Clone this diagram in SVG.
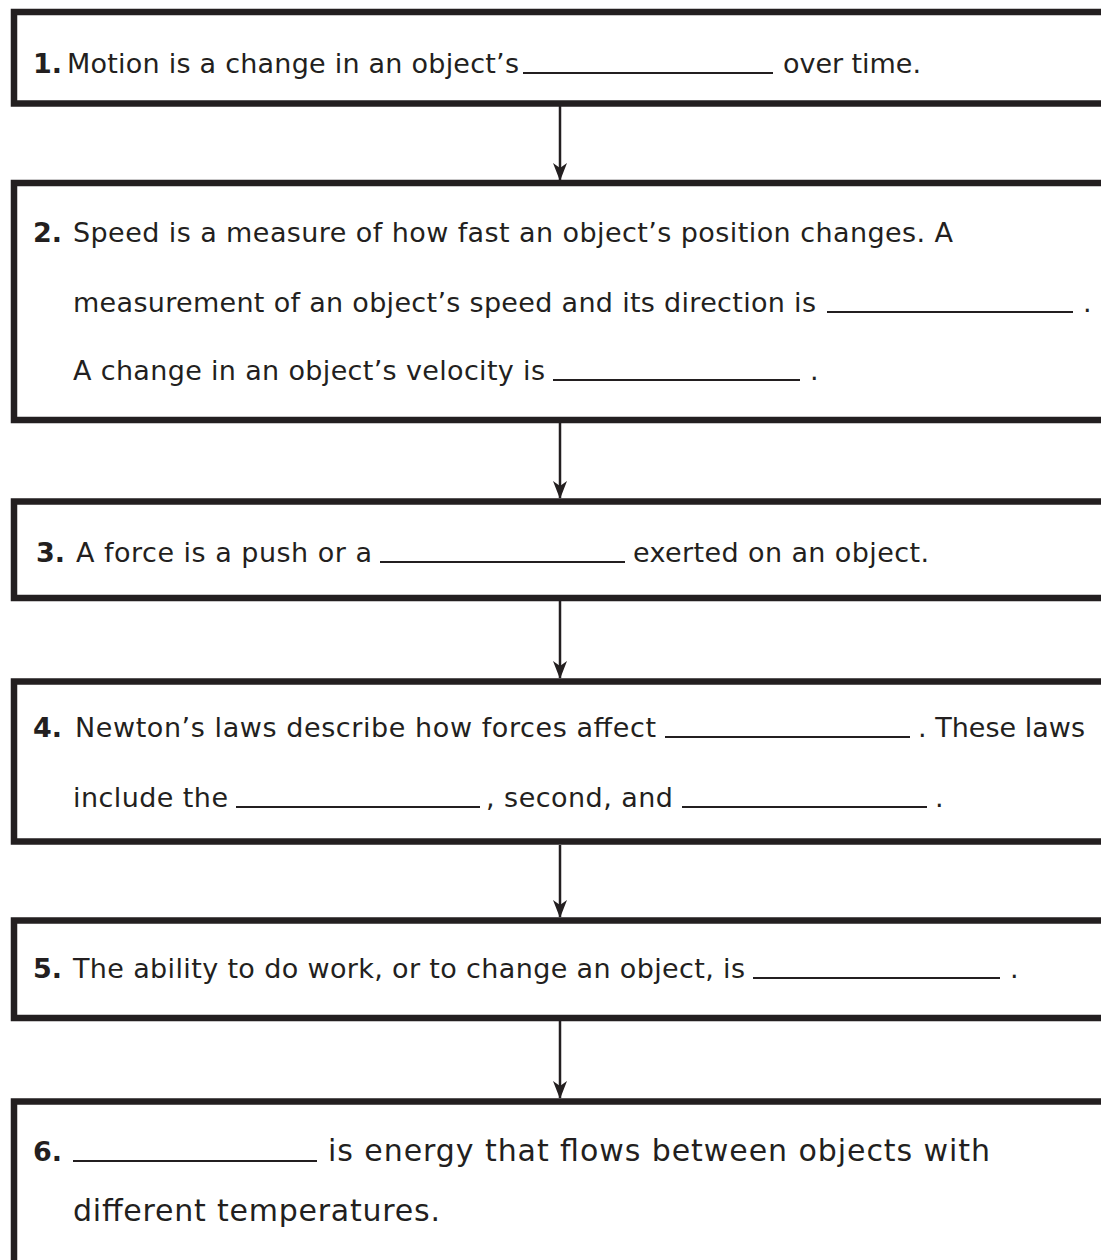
<svg xmlns="http://www.w3.org/2000/svg" width="1101" height="1260" viewBox="0 0 1101 1260">
<defs>
<style>
.box{fill:#ffffff;stroke:#231f20;stroke-width:6.5}
.t{font-family:"DejaVu Sans","Liberation Sans",sans-serif;font-size:27px;fill:#231f20}
.t6{font-family:"DejaVu Sans","Liberation Sans",sans-serif;font-size:30px;fill:#231f20}
.n{font-family:"DejaVu Sans","Liberation Sans",sans-serif;font-size:27px;font-weight:bold;fill:#231f20}
.blank{stroke:#231f20;stroke-width:2}
.conn{stroke:#231f20;stroke-width:2.5;fill:none;marker-end:url(#ah)}
</style>
<marker id="ah" markerUnits="userSpaceOnUse" markerWidth="18" markerHeight="14" viewBox="0 0 18 14" refX="17" refY="7" orient="auto">
<path d="M18 7 L0 0 L5 7 L0 14 Z" fill="#231f20"/>
</marker>
</defs>
<rect width="1101" height="1260" fill="#ffffff"/>
<g id="connectors">
<line class="conn" x1="560" y1="106" x2="560" y2="180"/>
<line class="conn" x1="560" y1="423" x2="560" y2="498"/>
<line class="conn" x1="560" y1="601" x2="560" y2="678"/>
<line class="conn" x1="560" y1="845" x2="560" y2="917"/>
<line class="conn" x1="560" y1="1021" x2="560" y2="1098"/>
</g>
<g id="node1">
<rect class="box" x="14" y="12" width="1100" height="91.5"/>
<text class="n" x="33" y="73">1.</text>
<text class="t" x="67" y="73" textLength="452" lengthAdjust="spacing">Motion is a change in an object’s</text>
<line class="blank" x1="523" y1="73" x2="773" y2="73"/>
<text class="t" x="783" y="73" textLength="138" lengthAdjust="spacing">over time.</text>
</g>
<g id="node2">
<rect class="box" x="14" y="183" width="1100" height="237"/>
<text class="n" x="33" y="242">2.</text>
<text class="t" x="73" y="242" textLength="880" lengthAdjust="spacing">Speed is a measure of how fast an object’s position changes. A</text>
<text class="t" x="73" y="312" textLength="743" lengthAdjust="spacing">measurement of an object’s speed and its direction is</text>
<line class="blank" x1="827" y1="312" x2="1073" y2="312"/>
<text class="t" x="1083" y="312">.</text>
<text class="t" x="73" y="380" textLength="472" lengthAdjust="spacing">A change in an object’s velocity is</text>
<line class="blank" x1="553" y1="380" x2="800" y2="380"/>
<text class="t" x="810" y="380">.</text>
</g>
<g id="node3">
<rect class="box" x="14" y="501.5" width="1100" height="96.5"/>
<text class="n" x="36" y="562">3.</text>
<text class="t" x="76" y="562" textLength="296" lengthAdjust="spacing">A force is a push or a</text>
<line class="blank" x1="380" y1="562" x2="625" y2="562"/>
<text class="t" x="633" y="562" textLength="296" lengthAdjust="spacing">exerted on an object.</text>
</g>
<g id="node4">
<rect class="box" x="14" y="681.5" width="1100" height="160"/>
<text class="n" x="33" y="737">4.</text>
<text class="t" x="75" y="737" textLength="581" lengthAdjust="spacing">Newton’s laws describe how forces affect</text>
<line class="blank" x1="665" y1="737" x2="910" y2="737"/>
<text class="t" x="918" y="737" textLength="167" lengthAdjust="spacing">. These laws</text>
<text class="t" x="73" y="807" textLength="155" lengthAdjust="spacing">include the</text>
<line class="blank" x1="236" y1="807" x2="480" y2="807"/>
<text class="t" x="486" y="807" textLength="187" lengthAdjust="spacing">, second, and</text>
<line class="blank" x1="682" y1="807" x2="927" y2="807"/>
<text class="t" x="935" y="807">.</text>
</g>
<g id="node5">
<rect class="box" x="14" y="920.5" width="1100" height="97.5"/>
<text class="n" x="33" y="978">5.</text>
<text class="t" x="73" y="978" textLength="672" lengthAdjust="spacing">The ability to do work, or to change an object, is</text>
<line class="blank" x1="753" y1="978" x2="1000" y2="978"/>
<text class="t" x="1010" y="978">.</text>
</g>
<g id="node6">
<rect class="box" x="14" y="1101.5" width="1100" height="200"/>
<text class="n" x="33" y="1161">6.</text>
<line class="blank" x1="73" y1="1161" x2="317" y2="1161"/>
<text class="t6" x="328" y="1161" textLength="662" lengthAdjust="spacing">is energy that flows between objects with</text>
<text class="t6" x="73" y="1221" textLength="367" lengthAdjust="spacing">different temperatures.</text>
</g>
</svg>
